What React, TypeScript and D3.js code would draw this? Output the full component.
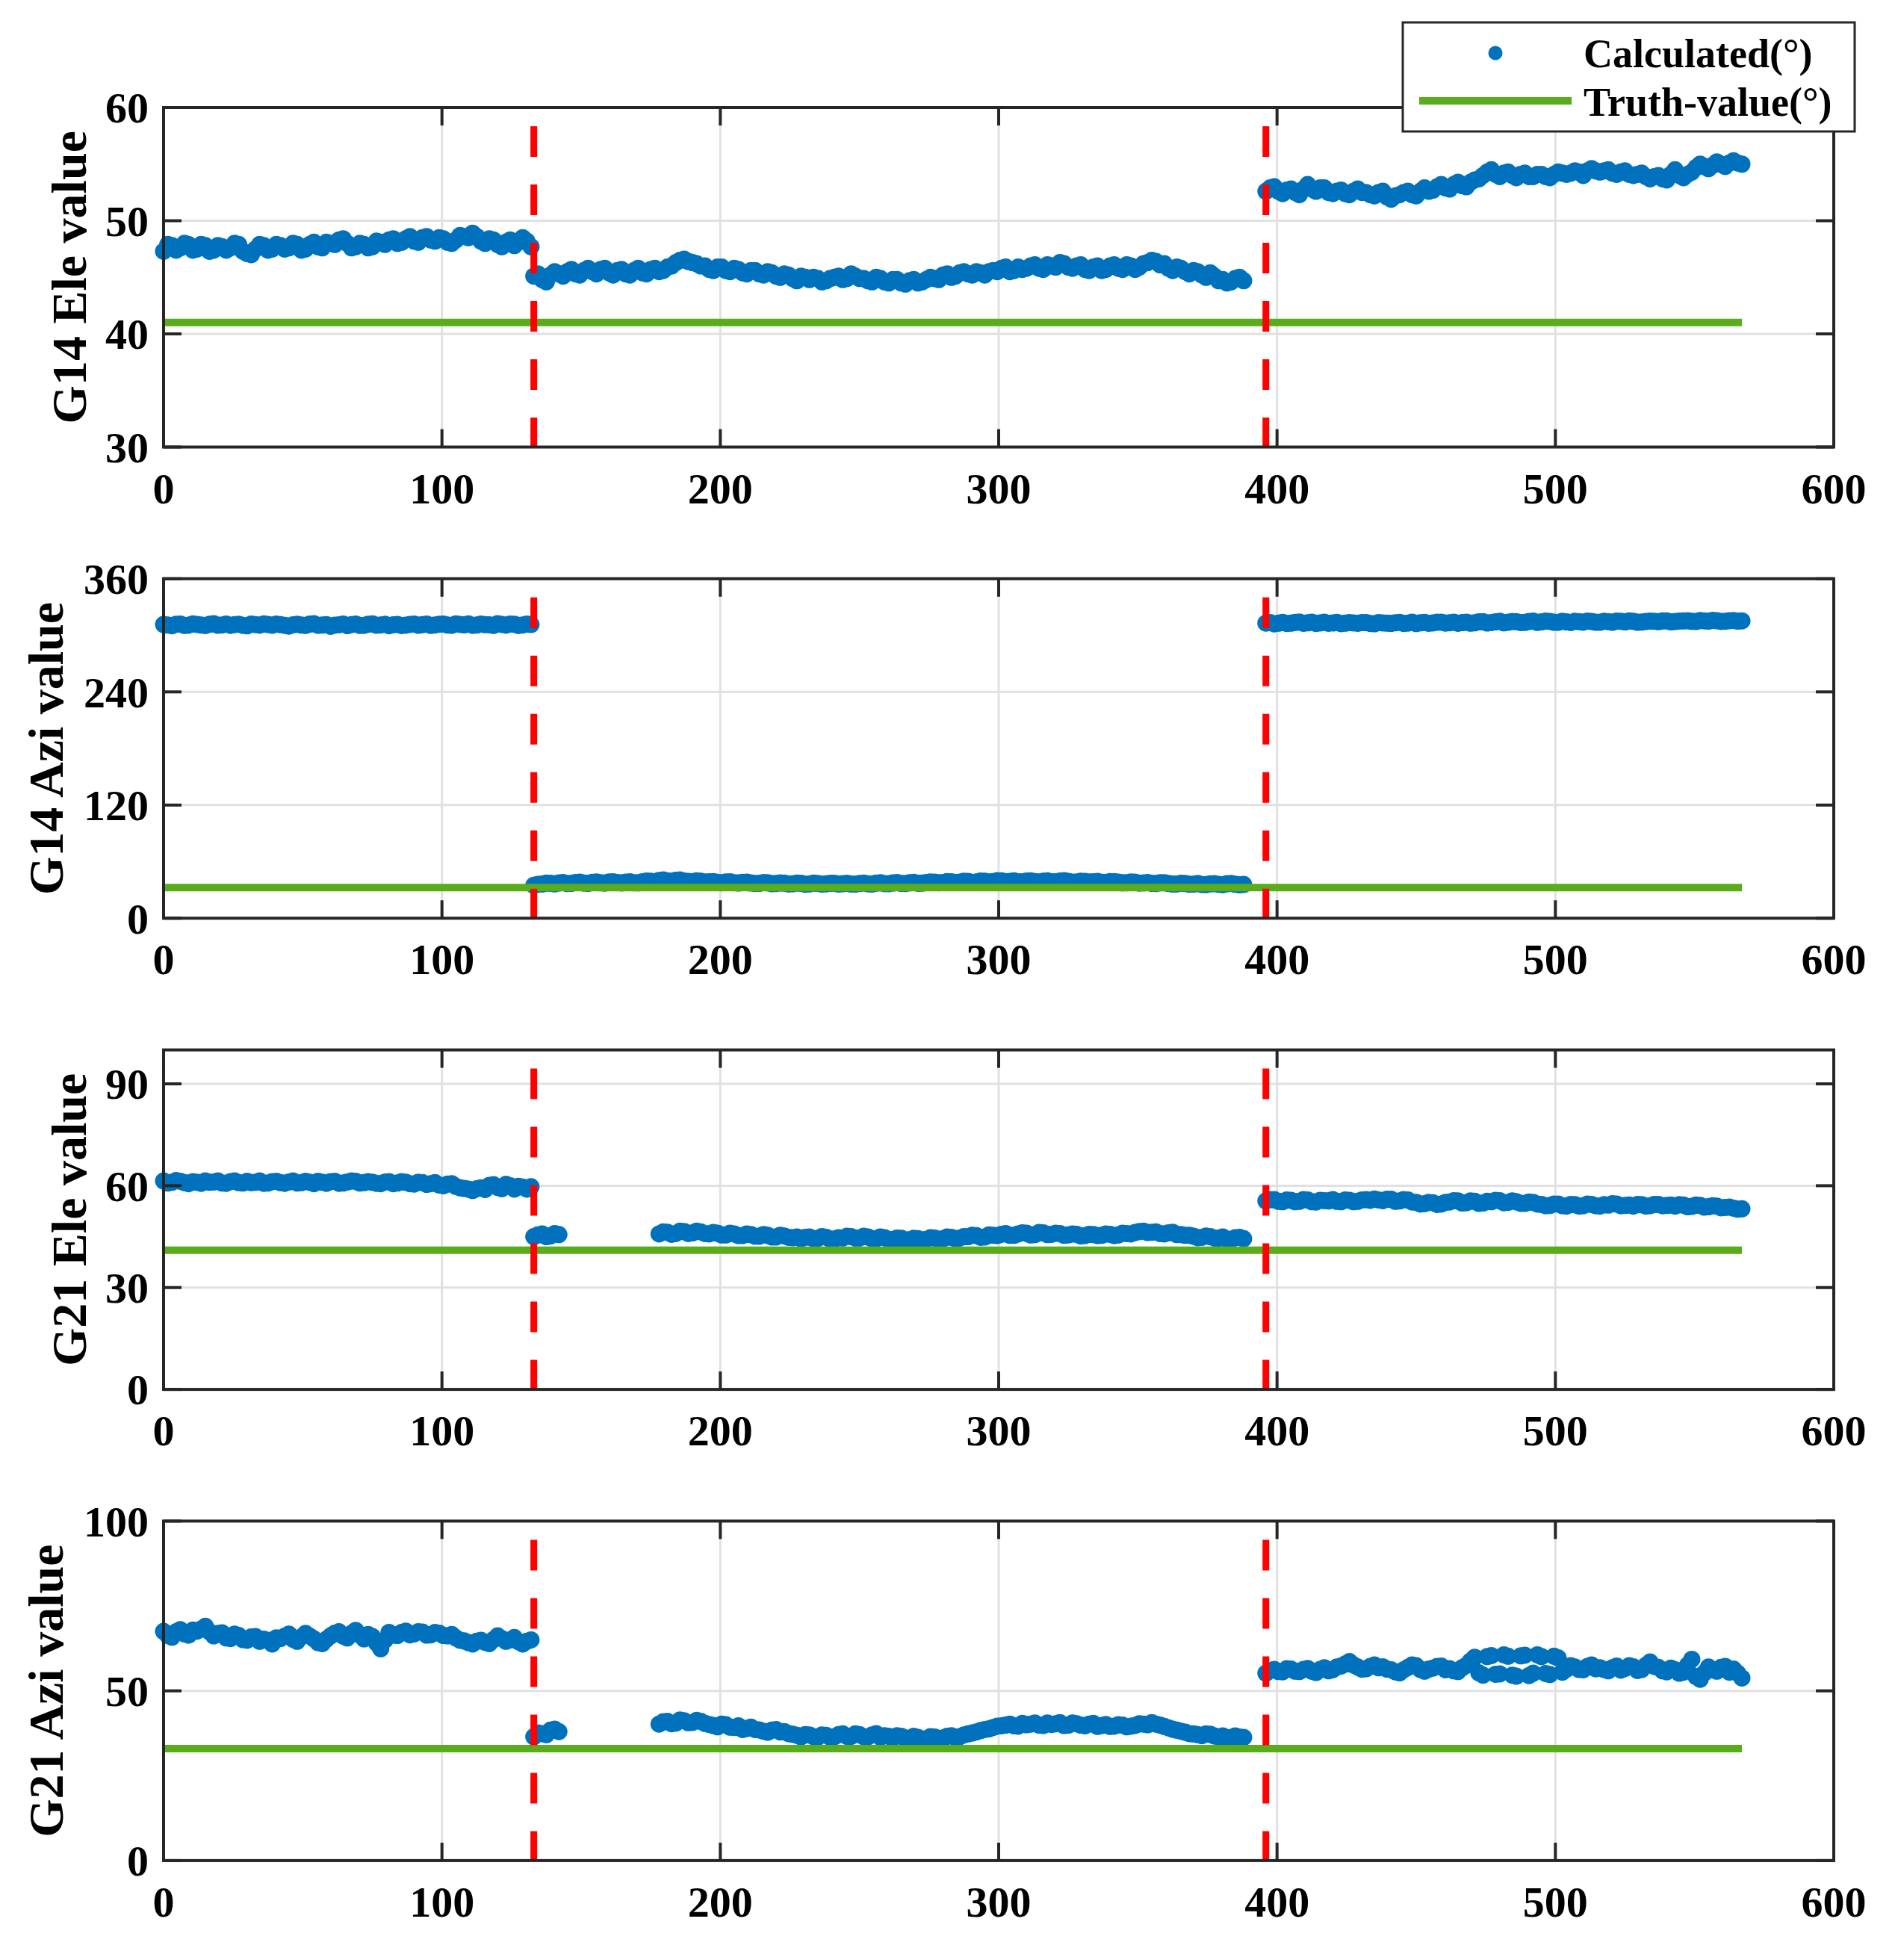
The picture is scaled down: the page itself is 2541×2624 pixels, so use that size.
import React, { useRef, useEffect } from "react";
import * as d3 from "d3";

// epochs are sampled every X_STEP; the "B" arrays sit half a step after the "A" arrays
const X_STEP = 3;
const xTicks = [0, 100, 200, 300, 400, 500, 600];
const breakEpochs = [133, 396];
const truthEnd = 567;

// G14 elevation
const g14EleLeft = [47.3, 47.8, 47.6, 47.9, 47.5, 47.8, 47.4, 47.7, 47.6, 47.9, 47.1, 47.5, 47.8, 47.5, 47.8, 47.6, 47.9, 47.5, 48.1, 47.6, 48.0, 48.3, 48.0, 47.7, 47.9, 47.7, 48.1, 48.3, 48.0, 48.4, 48.2, 48.5, 48.3, 48.5, 48.1, 48.3, 48.6, 48.9, 48.2, 48.4, 47.9, 48.1, 47.8, 48.5, 47.7];
const g14EleLeftB = [47.9, 47.4, 48.0, 47.4, 47.9, 47.3, 47.8, 47.4, 48.0, 47.3, 47.0, 47.9, 47.4, 47.9, 47.5, 48.0, 47.4, 47.9, 47.7, 48.1, 47.9, 48.4, 47.6, 48.0, 47.6, 48.2, 47.9, 48.4, 48.1, 48.6, 48.1, 48.6, 48.2, 48.4, 48.0, 48.7, 48.5, 48.6, 48.0, 48.3, 47.7, 48.3, 48.1, 48.2];
const g14EleMid = [45.1, 44.8, 45.2, 45.3, 45.5, 45.3, 45.6, 45.5, 45.7, 45.4, 45.6, 45.3, 45.6, 45.4, 45.7, 45.5, 45.9, 46.3, 46.6, 46.3, 46.0, 45.7, 45.9, 45.6, 45.8, 45.4, 45.6, 45.3, 45.5, 45.1, 45.3, 44.9, 45.1, 44.8, 44.9, 44.7, 45.0, 44.8, 45.3, 44.9, 44.7, 45.0, 44.6, 44.8, 44.5, 44.7, 44.5, 44.8, 44.9, 45.2, 45.0, 45.4, 45.3, 45.5, 45.2, 45.6, 45.8, 45.5, 45.9, 45.8, 46.1, 45.7, 46.0, 46.3, 45.9, 46.0, 45.7, 45.9, 45.6, 46.0, 45.8, 46.1, 45.7, 46.2, 46.5, 46.1, 45.8, 45.9, 45.5, 45.6, 45.2, 45.4, 44.7, 44.5, 44.9, 44.7];
const g14EleMidB = [45.3, 44.6, 45.5, 45.1, 45.7, 45.2, 45.8, 45.3, 45.8, 45.2, 45.7, 45.2, 45.8, 45.3, 45.8, 45.6, 46.0, 46.5, 46.4, 46.2, 46.0, 45.6, 45.9, 45.5, 45.7, 45.3, 45.6, 45.2, 45.4, 45.0, 45.2, 44.7, 45.0, 45.0, 44.6, 44.9, 45.1, 44.9, 45.1, 44.9, 44.6, 44.9, 44.5, 44.8, 44.4, 44.8, 44.6, 45.0, 44.8, 45.3, 45.1, 45.5, 45.2, 45.4, 45.5, 45.5, 45.9, 45.6, 45.7, 46.0, 45.8, 46.1, 45.9, 46.2, 45.8, 46.1, 45.6, 46.0, 45.7, 46.1, 45.7, 46.0, 45.9, 46.3, 46.4, 46.2, 45.6, 45.8, 45.3, 45.5, 45.0, 45.1, 44.8, 44.6, 45.0];
const g14EleRight = [52.6, 53.0, 52.4, 52.8, 52.3, 53.2, 52.6, 52.9, 52.4, 52.7, 52.3, 52.8, 52.5, 52.2, 52.6, 51.9, 52.3, 52.6, 52.2, 52.9, 52.7, 53.2, 52.8, 53.4, 53.0, 53.6, 54.0, 54.5, 53.9, 54.3, 53.8, 54.2, 53.9, 54.1, 53.8, 54.3, 54.1, 54.4, 54.0, 54.6, 54.3, 54.5, 54.1, 54.4, 54.0, 54.2, 53.7, 54.0, 53.6, 54.5, 53.8, 54.3, 55.0, 54.6, 55.2, 54.8, 55.3, 55.0];
const g14EleRightB = [52.9, 52.6, 52.7, 52.5, 52.8, 52.8, 52.9, 52.5, 52.6, 52.4, 52.6, 52.5, 52.3, 52.5, 52.1, 52.2, 52.5, 52.3, 52.6, 52.6, 53.0, 52.9, 53.2, 53.1, 53.4, 53.7, 54.3, 54.1, 54.2, 54.0, 54.1, 53.9, 54.1, 53.9, 54.1, 54.2, 54.2, 54.3, 54.4, 54.4, 54.4, 54.2, 54.3, 54.1, 54.1, 53.9, 53.9, 53.7, 54.1, 54.0, 54.1, 54.7, 54.8, 54.9, 55.0, 55.1, 55.1];

// G14 azimuth
const g14AziLeft = [311.5, 310.2, 312.0, 310.8, 311.6, 310.4, 312.3, 311.0, 310.6, 311.8, 310.1, 311.4, 312.2, 310.7, 311.3, 309.8, 311.7, 310.5, 312.4, 310.9, 309.6, 311.2, 310.3, 311.9, 310.6, 312.1, 311.0, 310.2, 311.6, 310.8, 312.0, 311.3, 310.5, 311.8, 310.9, 312.2, 311.1, 310.6, 311.9, 311.2, 312.3, 310.8, 311.7, 311.0, 311.5];
const g14AziLeftB = [310.9, 311.8, 310.5, 312.1, 310.9, 311.7, 310.7, 311.9, 311.4, 310.6, 311.9, 310.8, 311.5, 312.0, 310.6, 311.2, 310.9, 311.9, 310.6, 311.4, 310.8, 311.9, 311.4, 310.5, 311.8, 310.7, 311.7, 311.2, 310.4, 311.6, 310.7, 311.9, 311.0, 312.0, 310.6, 311.6, 312.1, 310.9, 311.3, 310.5, 311.6, 312.0, 310.5, 311.9];
const g14AziMid = [34.8, 36.2, 37.0, 37.4, 36.8, 37.9, 37.3, 38.1, 37.6, 38.4, 37.9, 38.2, 37.7, 38.6, 39.2, 40.1, 39.6, 40.3, 39.4, 38.9, 39.3, 38.6, 38.0, 38.5, 37.7, 38.1, 37.4, 37.0, 37.6, 36.8, 37.2, 36.5, 37.0, 36.3, 36.9, 36.4, 37.1, 36.6, 36.2, 36.9, 36.5, 37.2, 36.7, 37.4, 36.9, 37.6, 37.1, 37.8, 38.3, 37.9, 38.6, 38.2, 39.0, 38.5, 39.3, 38.8, 39.6, 39.1, 38.7, 39.4, 38.9, 39.2, 38.6, 39.5, 39.0, 38.4, 39.1, 38.6, 38.1, 38.8, 38.3, 37.7, 38.2, 37.5, 37.0, 37.6, 36.8, 36.3, 36.9, 36.1, 35.7, 36.4, 35.9, 36.6, 36.0, 35.8];
const g14AziMidB = [35.9, 37.3, 36.4, 37.8, 37.0, 38.2, 37.0, 38.5, 37.3, 38.6, 37.5, 38.6, 37.6, 39.5, 38.9, 40.6, 39.2, 40.6, 39.0, 39.6, 38.4, 38.9, 37.7, 38.7, 37.4, 38.2, 36.9, 37.8, 36.6, 37.5, 36.3, 37.3, 36.0, 37.2, 36.1, 37.0, 36.2, 37.0, 36.1, 37.3, 36.2, 37.6, 36.6, 37.8, 36.8, 38.0, 37.2, 38.5, 37.7, 38.9, 37.8, 39.2, 38.1, 39.4, 38.4, 39.9, 38.8, 39.7, 38.6, 39.6, 38.5, 39.6, 38.7, 39.8, 38.3, 39.3, 38.4, 39.0, 37.9, 38.9, 37.6, 38.4, 37.3, 37.8, 36.8, 37.7, 36.2, 37.1, 36.0, 36.8, 35.6, 36.7, 35.5, 36.9, 35.4];
const g14AziRight = [313.0, 312.2, 313.8, 312.9, 314.1, 313.3, 312.6, 313.9, 313.1, 312.4, 313.6, 312.8, 313.5, 312.3, 313.2, 312.7, 313.8, 313.0, 312.5, 313.7, 313.2, 314.0, 313.4, 312.8, 313.9, 313.3, 314.4, 313.6, 314.8, 313.9, 314.5, 313.7, 315.0, 314.2, 314.7, 313.8, 314.3, 314.9, 314.0, 314.6, 313.9, 314.5, 315.1, 314.3, 314.8, 314.1, 315.0, 314.4, 315.3, 314.6, 315.2, 314.8, 315.6, 315.0, 315.4, 314.9, 315.7, 315.3];
const g14AziRightB = [313.5, 312.9, 312.6, 313.7, 312.8, 314.0, 313.2, 312.8, 313.8, 312.9, 313.2, 313.6, 312.6, 313.6, 312.9, 313.4, 312.6, 313.9, 313.3, 312.8, 313.9, 313.0, 313.9, 313.5, 312.9, 314.2, 313.1, 314.2, 313.3, 314.6, 313.6, 314.6, 313.7, 315.0, 313.9, 314.8, 313.6, 314.5, 315.0, 313.9, 314.9, 313.9, 314.8, 315.2, 313.9, 314.6, 314.9, 315.2, 314.2, 315.1, 315.4, 314.6, 315.3, 315.8, 314.7, 315.5, 315.0];

// G21 elevation
const g21EleLeft = [61.4, 61.0, 61.3, 60.6, 61.0, 61.4, 61.1, 60.8, 61.2, 60.9, 61.3, 61.0, 60.7, 61.2, 60.9, 61.1, 60.8, 61.3, 60.6, 61.0, 61.2, 60.7, 61.1, 61.3, 60.9, 61.0, 60.6, 61.2, 60.8, 61.0, 60.5, 60.9, 60.6, 60.2, 60.5, 59.8, 59.2, 58.6, 59.4, 60.1, 59.5, 60.4, 59.0, 59.6, 59.7];
const g21EleLeftB = [60.8, 61.5, 60.9, 61.2, 60.7, 61.0, 61.4, 60.7, 61.4, 60.8, 60.9, 61.4, 60.8, 61.3, 60.7, 61.4, 60.9, 61.0, 61.3, 60.7, 61.3, 60.8, 61.4, 60.8, 61.2, 60.7, 61.1, 60.6, 61.2, 60.6, 61.0, 60.4, 60.9, 60.0, 60.6, 59.4, 59.0, 59.1, 58.9, 60.3, 59.1, 60.0, 59.8, 59.0];
const g21EleMidA = [45.0, 45.8, 45.2, 45.6];
const g21EleMidAB = [45.5, 45.0, 45.9];
const g21EleMidB = [45.8, 46.3, 45.9, 46.5, 46.1, 46.4, 45.8, 46.0, 45.5, 45.8, 45.3, 45.6, 45.1, 45.4, 44.9, 45.2, 44.7, 44.4, 44.9, 44.5, 44.8, 44.3, 44.6, 45.0, 44.6, 44.9, 44.4, 44.7, 44.2, 44.5, 44.1, 44.4, 44.2, 44.6, 44.4, 44.8, 44.6, 45.0, 45.3, 44.9, 45.4, 45.7, 45.4, 45.8, 46.0, 45.6, 46.1, 45.7, 45.9, 45.5, 45.7, 45.3, 45.6, 45.4, 45.7, 45.5, 45.9, 46.2, 46.6, 46.3, 45.9, 46.1, 45.6, 45.4, 45.1, 44.8, 45.0, 44.5, 44.3, 44.7, 44.4];
const g21EleMidBB = [46.4, 45.7, 46.6, 45.9, 46.6, 45.9, 46.2, 45.5, 46.0, 45.3, 45.8, 45.1, 45.6, 44.9, 45.4, 44.8, 44.9, 44.8, 44.4, 45.0, 44.3, 44.7, 45.1, 44.6, 45.1, 44.4, 44.9, 44.2, 44.6, 44.1, 44.5, 44.0, 44.7, 44.2, 44.9, 44.4, 45.0, 45.4, 44.8, 45.5, 45.3, 45.9, 45.4, 46.1, 45.5, 46.2, 45.6, 46.0, 45.4, 45.8, 45.2, 45.7, 45.3, 45.8, 45.3, 46.0, 45.8, 46.5, 46.2, 46.4, 45.8, 46.3, 45.6, 45.4, 44.7, 45.2, 44.6, 44.9, 44.2, 44.8];
const g21EleRight = [55.5, 55.9, 55.3, 55.7, 55.4, 55.8, 55.2, 55.6, 55.9, 55.3, 55.7, 55.4, 55.9, 56.1, 55.6, 56.0, 55.5, 55.8, 55.1, 54.7, 55.0, 54.6, 55.2, 55.5, 55.0, 55.4, 54.9, 55.3, 55.6, 55.1, 55.3, 54.8, 55.1, 54.5, 54.2, 54.6, 54.0, 54.4, 54.1, 54.5, 54.0, 54.3, 54.6, 54.2, 54.0, 54.4, 54.1, 54.5, 54.2, 54.0, 54.3, 53.9, 54.2, 53.8, 54.0, 53.6, 53.4, 53.2];
const g21EleRightB = [55.9, 55.4, 55.8, 55.3, 55.9, 55.3, 55.7, 55.5, 55.4, 55.8, 55.3, 55.8, 55.7, 55.8, 56.0, 55.4, 55.9, 55.2, 54.6, 55.1, 54.5, 55.1, 55.6, 54.9, 55.5, 54.8, 55.4, 55.7, 55.0, 55.5, 54.8, 55.2, 54.6, 54.1, 54.6, 54.1, 54.5, 54.0, 54.6, 54.1, 54.4, 54.7, 54.1, 54.3, 54.5, 54.0, 54.5, 54.1, 54.3, 54.4, 53.8, 54.3, 53.7, 54.1, 53.5, 53.7, 53.1];

// G21 azimuth
const g21AziLeft = [67.5, 65.8, 68.0, 66.4, 67.6, 69.0, 66.2, 67.1, 65.4, 66.3, 64.9, 66.0, 65.2, 63.8, 65.4, 66.7, 64.6, 66.9, 65.3, 63.9, 66.2, 67.4, 65.6, 67.8, 65.3, 66.0, 62.4, 67.2, 66.3, 67.6, 66.8, 67.3, 66.5, 67.0, 66.2, 65.6, 64.7, 63.8, 64.9, 63.9, 66.2, 64.6, 65.7, 63.8, 65.0];
const g21AziLeftB = [66.3, 67.4, 66.8, 67.9, 68.2, 67.4, 66.9, 65.6, 66.7, 65.1, 65.9, 64.6, 64.9, 65.6, 66.1, 65.2, 65.9, 66.1, 64.2, 65.2, 67.0, 66.1, 66.9, 66.4, 66.6, 64.1, 64.9, 66.4, 67.2, 66.5, 67.4, 66.4, 67.2, 66.3, 66.6, 64.9, 64.2, 64.6, 64.3, 65.1, 65.4, 65.0, 64.5, 64.6];
const g21AziMidA = [36.5, 37.4, 38.4, 38.0];
const g21AziMidAB = [37.6, 37.1, 38.7];
const g21AziMidB = [40.2, 41.0, 40.5, 41.2, 40.7, 41.0, 40.1, 39.4, 40.0, 39.2, 38.6, 39.3, 38.5, 37.8, 38.6, 38.0, 37.2, 36.4, 37.0, 36.3, 36.9, 36.5, 37.3, 36.6, 37.1, 36.4, 37.4, 36.8, 36.2, 36.6, 36.0, 36.3, 35.9, 36.4, 36.1, 36.8, 36.5, 37.3, 37.9, 38.6, 39.2, 39.7, 40.2, 39.6, 40.0, 40.5, 39.8, 40.1, 40.6, 39.9, 40.3, 39.7, 40.4, 39.8, 39.5, 40.0, 39.4, 39.8, 40.2, 40.6, 39.9, 39.1, 38.4, 37.8, 37.3, 36.8, 37.2, 36.4, 36.1, 36.7, 36.3];
const g21AziMidBB = [40.9, 40.3, 41.4, 40.6, 41.3, 40.4, 39.8, 40.2, 39.3, 39.7, 38.9, 38.6, 38.1, 38.4, 37.9, 37.4, 36.9, 37.1, 36.5, 37.0, 36.3, 37.1, 36.6, 37.3, 36.5, 37.0, 36.3, 36.6, 36.8, 36.1, 36.6, 35.8, 36.5, 36.0, 36.6, 36.2, 37.0, 37.6, 38.3, 38.8, 39.6, 39.9, 39.7, 40.4, 40.2, 39.9, 40.5, 40.3, 39.8, 40.5, 39.9, 40.2, 39.5, 40.1, 39.6, 39.9, 39.6, 40.3, 40.0, 40.2, 39.5, 38.7, 38.1, 37.4, 37.1, 37.3, 36.7, 36.7, 36.3, 36.4];
const g21AziRight = [55.2, 56.3, 55.6, 56.4, 55.7, 56.6, 55.4, 56.8, 56.2, 57.3, 58.6, 57.0, 56.5, 57.6, 57.1, 56.2, 55.3, 56.9, 57.4, 55.8, 56.7, 57.3, 56.5, 55.7, 57.5, 59.9, 54.6, 60.4, 55.0, 60.2, 54.3, 60.5, 55.2, 60.1, 54.8, 59.7, 56.4, 57.0, 56.2, 57.6, 56.8, 55.9, 57.3, 56.6, 57.1, 56.3, 58.5, 56.9, 55.6, 56.2, 55.5, 59.3, 53.4, 57.0, 55.8, 57.2, 56.4, 53.8];
const g21AziRightB = [56.0, 55.7, 56.5, 55.8, 56.3, 55.8, 56.3, 55.9, 57.0, 57.9, 57.6, 56.4, 57.2, 56.8, 56.4, 55.6, 56.2, 57.6, 56.3, 56.4, 57.2, 56.2, 55.9, 56.8, 58.8, 55.3, 60.1, 54.9, 60.6, 54.6, 60.3, 54.5, 60.6, 55.1, 60.2, 55.5, 57.4, 56.3, 57.2, 56.5, 56.3, 56.8, 56.1, 57.4, 56.0, 57.5, 57.2, 55.9, 56.7, 55.2, 57.6, 54.2, 55.3, 56.2, 56.9, 55.5, 55.2];

const panels = [
  {
    label: "G14 Ele value", yDomain: [30, 60], yTicks: [30, 40, 50, 60], truth: 41, labelX: 115,
    segments: [
      { start: 0, values: g14EleLeft }, { start: 1.5, values: g14EleLeftB },
      { start: 133, values: g14EleMid }, { start: 134.5, values: g14EleMidB },
      { start: 396, values: g14EleRight }, { start: 397.5, values: g14EleRightB },
    ],
  },
  {
    label: "G14 Azi value", yDomain: [0, 360], yTicks: [0, 120, 240, 360], truth: 32.5, labelX: 84,
    segments: [
      { start: 0, values: g14AziLeft }, { start: 1.5, values: g14AziLeftB },
      { start: 133, values: g14AziMid }, { start: 134.5, values: g14AziMidB },
      { start: 396, values: g14AziRight }, { start: 397.5, values: g14AziRightB },
    ],
  },
  {
    label: "G21 Ele value", yDomain: [0, 100], yTicks: [0, 30, 60, 90], truth: 41, labelX: 115,
    segments: [
      { start: 0, values: g21EleLeft }, { start: 1.5, values: g21EleLeftB },
      { start: 133, values: g21EleMidA }, { start: 134.5, values: g21EleMidAB },
      { start: 178, values: g21EleMidB }, { start: 179.5, values: g21EleMidBB },
      { start: 396, values: g21EleRight }, { start: 397.5, values: g21EleRightB },
    ],
  },
  {
    label: "G21 Azi value", yDomain: [0, 100], yTicks: [0, 50, 100], truth: 33, labelX: 84,
    segments: [
      { start: 0, values: g21AziLeft }, { start: 1.5, values: g21AziLeftB },
      { start: 133, values: g21AziMidA }, { start: 134.5, values: g21AziMidAB },
      { start: 178, values: g21AziMidB }, { start: 179.5, values: g21AziMidBB },
      { start: 396, values: g21AziRight }, { start: 397.5, values: g21AziRightB },
    ],
  },
];

const W = 2541;
const H = 2624;
const FONT = "'Liberation Serif', 'Times New Roman', serif";
const BLUE = "#0072bd";
const GREEN = "#59ad1a";
const RED = "#ff0000";
const AXIS = "#262626";
const GRID = "#e1e1e1";

export default function App() {
  const ref = useRef<SVGSVGElement>(null);

  useEffect(() => {
    if (!ref.current) return;
    const svg = d3.select(ref.current);
    svg.selectAll("*").remove();

    const left = 219, right = 2455, panelH = 454.5, panelGap = 630.8;
    const x = d3.scaleLinear().domain([0, 600]).range([left, right]);
    const tickLen = 24;

    panels.forEach((p, i) => {
      const top = 144 + i * panelGap;
      const bottom = top + panelH;
      const y = d3.scaleLinear().domain(p.yDomain).range([bottom, top]);
      const g = svg.append("g");

      // grid
      g.selectAll(".gx").data(xTicks).join("line")
        .attr("x1", d => x(d)).attr("x2", d => x(d))
        .attr("y1", top).attr("y2", bottom)
        .attr("stroke", GRID).attr("stroke-width", 3);
      g.selectAll(".gy").data(p.yTicks).join("line")
        .attr("x1", left).attr("x2", right)
        .attr("y1", d => y(d)).attr("y2", d => y(d))
        .attr("stroke", GRID).attr("stroke-width", 3);

      // calculated points
      const pts = p.segments.flatMap(s => s.values.map((v, k) => ({ e: s.start + k * X_STEP, v })));
      g.selectAll(".pt").data(pts).join("circle")
        .attr("cx", d => x(d.e)).attr("cy", d => y(d.v))
        .attr("r", 11.5).attr("fill", BLUE);

      // truth line
      g.append("line")
        .attr("x1", x(0)).attr("x2", x(truthEnd))
        .attr("y1", y(p.truth)).attr("y2", y(p.truth))
        .attr("stroke", GREEN).attr("stroke-width", 10);

      // break markers
      g.selectAll(".brk").data(breakEpochs).join("line")
        .attr("x1", d => x(d)).attr("x2", d => x(d))
        .attr("y1", top + 25).attr("y2", bottom)
        .attr("stroke", RED).attr("stroke-width", 9)
        .attr("stroke-dasharray", "41 37");

      // box
      g.append("rect")
        .attr("x", left).attr("y", top)
        .attr("width", right - left).attr("height", panelH)
        .attr("fill", "none").attr("stroke", AXIS).attr("stroke-width", 4);

      // ticks (inward on all sides)
      xTicks.forEach(t => {
        g.append("line").attr("x1", x(t)).attr("x2", x(t)).attr("y1", bottom).attr("y2", bottom - tickLen)
          .attr("stroke", AXIS).attr("stroke-width", 4);
        g.append("line").attr("x1", x(t)).attr("x2", x(t)).attr("y1", top).attr("y2", top + tickLen)
          .attr("stroke", AXIS).attr("stroke-width", 4);
      });
      p.yTicks.forEach(t => {
        g.append("line").attr("x1", left).attr("x2", left + tickLen).attr("y1", y(t)).attr("y2", y(t))
          .attr("stroke", AXIS).attr("stroke-width", 4);
        g.append("line").attr("x1", right).attr("x2", right - tickLen).attr("y1", y(t)).attr("y2", y(t))
          .attr("stroke", AXIS).attr("stroke-width", 4);
      });

      // tick labels
      g.selectAll(".xl").data(xTicks).join("text")
        .attr("x", d => x(d)).attr("y", bottom + 75)
        .attr("text-anchor", "middle")
        .style("font-family", FONT).style("font-weight", "bold").style("font-size", "58px")
        .attr("fill", "#000")
        .text(d => d);
      g.selectAll(".yl").data(p.yTicks).join("text")
        .attr("x", left - 20).attr("y", d => y(d)).attr("dy", "0.35em")
        .attr("text-anchor", "end")
        .style("font-family", FONT).style("font-weight", "bold").style("font-size", "58px")
        .attr("fill", "#000")
        .text(d => d);

      // axis label
      g.append("text")
        .attr("transform", `translate(${p.labelX},${(top + bottom) / 2}) rotate(-90)`)
        .attr("text-anchor", "middle")
        .style("font-family", FONT).style("font-weight", "bold").style("font-size", "66px")
        .attr("fill", "#000")
        .text(p.label);
    });

    // legend
    const lg = svg.append("g");
    lg.append("rect")
      .attr("x", 1878).attr("y", 30).attr("width", 605).attr("height", 146)
      .attr("fill", "#fff").attr("stroke", AXIS).attr("stroke-width", 3);
    lg.append("circle").attr("cx", 2002).attr("cy", 71).attr("r", 9.5).attr("fill", BLUE);
    lg.append("line").attr("x1", 1900).attr("x2", 2104).attr("y1", 135).attr("y2", 135)
      .attr("stroke", GREEN).attr("stroke-width", 10);
    const legendLabels = ["Calculated(°)", "Truth-value(°)"];
    lg.selectAll(".lt").data(legendLabels).join("text")
      .attr("x", 2120).attr("y", (d, k) => 90 + k * 65)
      .style("font-family", FONT).style("font-weight", "bold").style("font-size", "54px")
      .attr("fill", "#000")
      .text(d => d);
  }, []);

  return (
    <svg
      ref={ref}
      width={W}
      height={H}
      style={{ position: "absolute", left: 0, top: 0, background: "#fff" }}
    />
  );
}
